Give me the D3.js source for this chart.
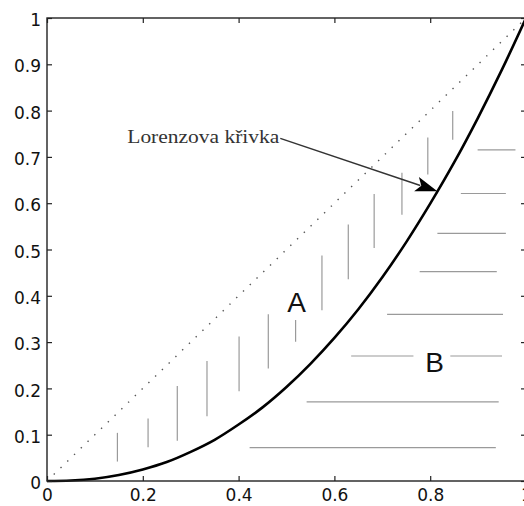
<!DOCTYPE html>
<html>
<head>
<meta charset="utf-8">
<title>Lorenzova krivka</title>
<script src="https://d3js.org/d3.v7.min.js"></script>
<style>
  body { margin: 0; background: #fff; }
  svg { display: block; }
</style>
</head>
<body>
<div id="chart"></div>
<script>
// tick values
const xTicks = [0, 0.2, 0.4, 0.6, 0.8, 1];
const yTicks = [0, 0.1, 0.2, 0.3, 0.4, 0.5, 0.6, 0.7, 0.8, 0.9, 1];

// Lorenz curve
const curveX = [0, 0.05, 0.1, 0.15, 0.2, 0.25, 0.3, 0.35, 0.4, 0.45, 0.5, 0.55, 0.6, 0.65, 0.7, 0.75, 0.8, 0.85, 0.9, 0.95, 1];
const curveY = [0, 0.001, 0.005, 0.013, 0.025, 0.041, 0.063, 0.089, 0.122, 0.159, 0.203, 0.253, 0.309, 0.371, 0.44, 0.516, 0.599, 0.688, 0.785, 0.889, 1];

// equality line
const diagX = [0, 1];
const diagY = [0, 1];

// hatching in area A (vertical): x, y from, y to
const hatchA_x  = [0.147, 0.211, 0.272, 0.334, 0.401, 0.462, 0.519, 0.574, 0.629, 0.683, 0.741, 0.795, 0.847];
const hatchA_y0 = [0.042, 0.073, 0.087, 0.140, 0.194, 0.243, 0.301, 0.369, 0.436, 0.503, 0.575, 0.662, 0.737];
const hatchA_y1 = [0.104, 0.135, 0.205, 0.259, 0.312, 0.360, 0.348, 0.487, 0.554, 0.620, 0.666, 0.742, 0.799];

// hatching in area B (horizontal): y, x from, x to
const hatchB_y  = [0.715, 0.621, 0.535, 0.452, 0.360, 0.270, 0.270, 0.171, 0.072];
const hatchB_x0 = [0.899, 0.864, 0.815, 0.778, 0.710, 0.635, 0.842, 0.542, 0.423];
const hatchB_x1 = [0.978, 0.958, 0.958, 0.939, 0.952, 0.765, 0.950, 0.943, 0.937];

// annotation
const areaLabels = ["A", "B"];
const areaLabelX = [0.521, 0.809];
const areaLabelY = [0.366, 0.236];
const curveLabel = "Lorenzova křivka";
const arrowFrom = [0.487, 0.740];
const arrowTo = [0.815, 0.626];

const W = 524, H = 506;
const mLeft = 47, mRight = 526, mTop = 18, mBottom = 481;

const svg = d3.select("#chart").append("svg")
    .attr("width", W)
    .attr("height", H);

const x = d3.scaleLinear().domain([0, 1]).range([mLeft, mRight]);
const y = d3.scaleLinear().domain([0, 1]).range([mBottom, mTop]);

// dotted diagonal
svg.append("path")
    .datum(diagX.map((d, i) => [d, diagY[i]]))
    .attr("d", d3.line().x(d => x(d[0])).y(d => y(d[1])))
    .attr("fill", "none")
    .attr("stroke", "#555")
    .attr("stroke-width", 1.4)
    .attr("stroke-dasharray", "1.4,8");

// hatching A
svg.selectAll("line.ha")
    .data(hatchA_x)
    .enter().append("line")
    .attr("class", "ha")
    .attr("x1", d => x(d)).attr("x2", d => x(d))
    .attr("y1", (d, i) => y(hatchA_y0[i]))
    .attr("y2", (d, i) => y(hatchA_y1[i]))
    .attr("stroke", "#9a9a9a")
    .attr("stroke-width", 1.2);

// hatching B
svg.selectAll("line.hb")
    .data(hatchB_y)
    .enter().append("line")
    .attr("class", "hb")
    .attr("y1", d => y(d)).attr("y2", d => y(d))
    .attr("x1", (d, i) => x(hatchB_x0[i]))
    .attr("x2", (d, i) => x(hatchB_x1[i]))
    .attr("stroke", "#9a9a9a")
    .attr("stroke-width", 1.2);

// Lorenz curve
svg.append("path")
    .datum(curveX.map((d, i) => [d, curveY[i]]))
    .attr("d", d3.line().x(d => x(d[0])).y(d => y(d[1])).curve(d3.curveCatmullRom))
    .attr("fill", "none")
    .attr("stroke", "#000")
    .attr("stroke-width", 2.6);

// axes, MATLAB style: ticks inside, on all four sides
const tickFont = "'DejaVu Sans', sans-serif";

const xAxis = d3.axisBottom(x).tickValues(xTicks).tickSizeInner(-5).tickSizeOuter(0).tickPadding(8)
    .tickFormat(d => d3.format("")(d));
const yAxis = d3.axisLeft(y).tickValues(yTicks).tickSizeInner(-5).tickSizeOuter(0).tickPadding(6)
    .tickFormat(d => d3.format("")(d));

const gx = svg.append("g").attr("transform", "translate(0," + mBottom + ")").call(xAxis);
const gy = svg.append("g").attr("transform", "translate(" + mLeft + ",0)").call(yAxis);
svg.append("g").attr("transform", "translate(0," + mTop + ")")
    .call(d3.axisTop(x).tickValues(xTicks).tickSizeInner(-5).tickSizeOuter(0).tickFormat(""));
svg.append("g").attr("transform", "translate(" + mRight + ",0)")
    .call(d3.axisRight(y).tickValues(yTicks).tickSizeInner(-5).tickSizeOuter(0).tickFormat(""));

svg.selectAll(".domain").remove();
svg.selectAll(".tick line").attr("stroke", "#222").attr("stroke-width", 1.2);

gx.selectAll("text")
    .attr("font-family", tickFont).attr("font-size", 17).attr("fill", "#111")
    .attr("dy", "0.72em");
gy.selectAll("text")
    .attr("font-family", tickFont).attr("font-size", 17).attr("fill", "#111")
    .attr("dy", "0.45em");

// box
svg.append("rect")
    .attr("x", mLeft).attr("y", mTop)
    .attr("width", mRight - mLeft).attr("height", mBottom - mTop)
    .attr("fill", "none")
    .attr("stroke", "#222")
    .attr("stroke-width", 1.4);

// A and B labels
svg.selectAll("text.area")
    .data(areaLabels)
    .enter().append("text")
    .attr("class", "area")
    .attr("x", (d, i) => x(areaLabelX[i]))
    .attr("y", (d, i) => y(areaLabelY[i]))
    .attr("text-anchor", "middle")
    .attr("font-family", "'Liberation Sans', Arial, sans-serif")
    .attr("font-size", 28)
    .attr("fill", "#111")
    .text(d => d);

// curve label and arrow
svg.append("text")
    .attr("x", x(arrowFrom[0]) - 1)
    .attr("y", y(arrowFrom[1]) + 5)
    .attr("text-anchor", "end")
    .attr("font-family", "'Liberation Serif', 'DejaVu Serif', serif")
    .attr("font-size", 19)
    .attr("fill", "#333")
    .attr("textLength", 152)
    .attr("lengthAdjust", "spacingAndGlyphs")
    .text(curveLabel);

const ax0 = x(arrowFrom[0]), ay0 = y(arrowFrom[1]);
const ax1 = x(arrowTo[0]), ay1 = y(arrowTo[1]);
const ang = Math.atan2(ay1 - ay0, ax1 - ax0);
const headLen = 22, headW = 7.5;
const bx = ax1 - headLen * Math.cos(ang), by = ay1 - headLen * Math.sin(ang);
const nx = -Math.sin(ang), ny = Math.cos(ang);

svg.append("line")
    .attr("x1", ax0).attr("y1", ay0)
    .attr("x2", bx + 4 * Math.cos(ang)).attr("y2", by + 4 * Math.sin(ang))
    .attr("stroke", "#333")
    .attr("stroke-width", 1.5);

const notch = 5;
svg.append("path")
    .attr("d", "M" + ax1 + "," + ay1 +
        "L" + (bx + headW * nx) + "," + (by + headW * ny) +
        "L" + (bx + notch * Math.cos(ang)) + "," + (by + notch * Math.sin(ang)) +
        "L" + (bx - headW * nx) + "," + (by - headW * ny) + "Z")
    .attr("fill", "#000");
</script>
</body>
</html>
